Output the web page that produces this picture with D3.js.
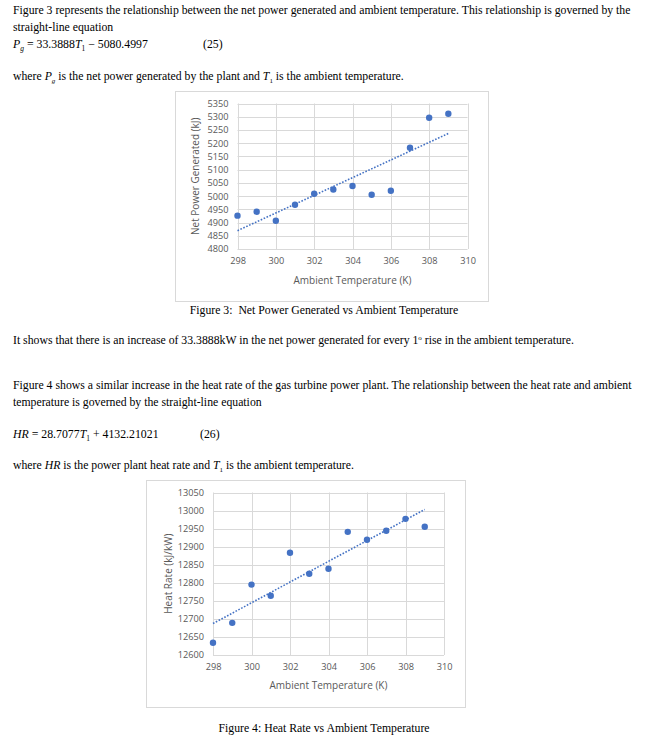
<!DOCTYPE html>
<html>
<head>
<meta charset="utf-8">
<script src="https://cdn.jsdelivr.net/npm/d3@7"></script>
<style>
  body { margin: 0; background: #fff; }
  .body-text { font-family: "Liberation Serif", "Times New Roman", serif; font-size: 11.75px; fill: #000; }
  .eq { font-family: "Liberation Serif", serif; font-size: 11.8px; fill: #000; }
  .tick-label { font-family: "Open Sans", sans-serif; font-size: 9.2px; fill: #595959; }
  .axis-title { font-family: "Open Sans", sans-serif; font-size: 10px; fill: #595959; }
</style>
</head>
<body>
<div id="page"></div>
<script>
// data
const temps = [298, 299, 300, 301, 302, 303, 304, 305, 306, 307, 308, 309];
const netPower = [4926, 4941, 4907, 4967, 5009, 5025, 5038, 5005, 5020, 5183, 5296, 5311];
const heatRate = [12634, 12689, 12795, 12764, 12883, 12825, 12839, 12941, 12919, 12944, 12977, 12955];
const tempTicks = [298, 300, 302, 304, 306, 308, 310];
const powerTicks = [4800, 4850, 4900, 4950, 5000, 5050, 5100, 5150, 5200, 5250, 5300, 5350];
const heatTicks = [12600, 12650, 12700, 12750, 12800, 12850, 12900, 12950, 13000, 13050];
// trendline coefficients (slope, intercept) as given in eq. 25 / 26
const powerFit = [33.3888, -5080.4997];
const heatFit = [28.7077, 4132.21021];

const W = 648, H = 751;
const blue = "#4472c4";

const svg = d3.select("#page").append("svg")
    .attr("width", W).attr("height", H);
svg.append("rect").attr("width", W).attr("height", H).attr("fill", "#fff");

// plain paragraph lines
function textLine(x, y, str, anchor) {
    svg.append("text").attr("class", "body-text")
        .attr("x", x).attr("y", y)
        .attr("text-anchor", anchor || "start")
        .text(str);
}

textLine(13, 14, "Figure 3 represents the relationship between the net power generated and ambient temperature. This relationship is governed by the");
textLine(13, 31, "straight-line equation");

// equation 25
let eq = svg.append("text").attr("class", "eq").attr("x", 13).attr("y", 48);
eq.append("tspan").attr("font-style", "italic").text("P");
eq.append("tspan").attr("font-style", "italic").attr("font-size", "7.5px").attr("dy", 2.5).text("g");
eq.append("tspan").attr("dy", -2.5).text(" = 33.3888");
eq.append("tspan").attr("font-style", "italic").text("T");
eq.append("tspan").attr("font-size", "7.5px").attr("dy", 2.5).text("1");
eq.append("tspan").attr("dy", -2.5).text(" \u2212 5080.4997");
textLine(203, 48, "(25)");

let w1 = svg.append("text").attr("class", "body-text").attr("x", 13).attr("y", 80);
w1.append("tspan").text("where ");
w1.append("tspan").attr("font-style", "italic").text("P");
w1.append("tspan").attr("font-style", "italic").attr("font-size", "7px").attr("dy", 3).text("g");
w1.append("tspan").attr("dy", -3).text(" is the net power generated by the plant and ");
w1.append("tspan").attr("font-style", "italic").text("T");
w1.append("tspan").attr("font-size", "7px").attr("dy", 3).text("1");
w1.append("tspan").attr("dy", -3).text(" is the ambient temperature.");

textLine(324, 314, "Figure 3:\u00a0 Net Power Generated vs Ambient Temperature", "middle");
let s1 = svg.append("text").attr("class", "body-text").attr("x", 13).attr("y", 344);
s1.append("tspan").text("It shows that there is an increase of 33.3888kW in the net power generated for every 1");
s1.append("tspan").attr("font-size", "7px").attr("dy", -4).text("o");
s1.append("tspan").attr("dy", 4).text(" rise in the ambient temperature.");

textLine(13, 389, "Figure 4 shows a similar increase in the heat rate of the gas turbine power plant. The relationship between the heat rate and ambient");
textLine(13, 406, "temperature is governed by the straight-line equation");

let eq2 = svg.append("text").attr("class", "eq").attr("x", 13).attr("y", 438);
eq2.append("tspan").attr("font-style", "italic").text("HR");
eq2.append("tspan").text(" = 28.7077");
eq2.append("tspan").attr("font-style", "italic").text("T");
eq2.append("tspan").attr("font-size", "7.5px").attr("dy", 2.5).text("1");
eq2.append("tspan").attr("dy", -2.5).text(" + 4132.21021");
textLine(200, 438, "(26)");

let w2 = svg.append("text").attr("class", "body-text").attr("x", 13).attr("y", 469);
w2.append("tspan").text("where ");
w2.append("tspan").attr("font-style", "italic").text("HR");
w2.append("tspan").text(" is the power plant heat rate and ");
w2.append("tspan").attr("font-style", "italic").text("T");
w2.append("tspan").attr("font-size", "7px").attr("dy", 3).text("1");
w2.append("tspan").attr("dy", -3).text(" is the ambient temperature.");

textLine(324, 732, "Figure 4: Heat Rate vs Ambient Temperature", "middle");

// one excel-style scatter chart with dotted linear trendline
function drawChart(o) {
    const g = svg.append("g");
    g.append("rect")
        .attr("x", o.frame[0] + 0.5).attr("y", o.frame[1] + 0.5)
        .attr("width", o.frame[2] - o.frame[0]).attr("height", o.frame[3] - o.frame[1])
        .attr("fill", "#fff").attr("stroke", "#d9d9d9").attr("stroke-width", 1);

    const x = d3.scaleLinear().domain([o.xTicks[0], o.xTicks[o.xTicks.length - 1]]).range([o.plot[0], o.plot[2]]);
    const y = d3.scaleLinear().domain([o.yTicks[0], o.yTicks[o.yTicks.length - 1]]).range([o.plot[3], o.plot[1]]);

    // gridlines
    g.append("g").selectAll("line").data(o.yTicks).enter().append("line")
        .attr("x1", o.plot[0]).attr("x2", o.plot[2])
        .attr("y1", d => Math.round(y(d)) + 0.5).attr("y2", d => Math.round(y(d)) + 0.5)
        .attr("stroke", "#d9d9d9").attr("stroke-width", 1);
    g.append("g").selectAll("line").data(o.xTicks).enter().append("line")
        .attr("x1", d => Math.round(x(d)) + 0.5).attr("x2", d => Math.round(x(d)) + 0.5)
        .attr("y1", o.plot[1]).attr("y2", o.plot[3])
        .attr("stroke", "#d9d9d9").attr("stroke-width", 1);

    // tick labels
    const ya = g.append("g").attr("transform", `translate(${o.plot[0] - 9},0)`)
        .call(d3.axisLeft(y).tickValues(o.yTicks).tickFormat(d3.format("d")).tickSize(0).tickPadding(0));
    ya.select(".domain").remove();
    ya.selectAll("text").attr("class", "tick-label").attr("font-family", null).attr("font-size", null).attr("fill", null);

    const xa = g.append("g").attr("transform", `translate(0,${o.plot[3] + 8})`)
        .call(d3.axisBottom(x).tickValues(o.xTicks).tickFormat(d3.format("d")).tickSize(0).tickPadding(0));
    xa.select(".domain").remove();
    xa.selectAll("text").attr("class", "tick-label").attr("font-family", null).attr("font-size", null).attr("fill", null);

    // axis titles
    g.append("text").attr("class", "axis-title")
        .attr("x", (o.plot[0] + o.plot[2]) / 2).attr("y", o.xTitleY)
        .attr("text-anchor", "middle").text(o.xTitle);
    g.append("text").attr("class", "axis-title")
        .attr("transform", `translate(${o.yTitleX},${(o.plot[1] + o.plot[3]) / 2}) rotate(-90)`)
        .attr("text-anchor", "middle").text(o.yTitle);

    // trendline
    const ends = [temps[0], temps[temps.length - 1]];
    g.append("path")
        .attr("d", d3.line().x(d => x(d)).y(d => y(o.fit[0] * d + o.fit[1]))(ends))
        .attr("fill", "none").attr("stroke", blue).attr("stroke-width", 1.6)
        .attr("stroke-dasharray", "1.6,1.6");

    // markers
    g.append("g").selectAll("circle").data(o.values).enter().append("circle")
        .attr("cx", (d, i) => x(temps[i])).attr("cy", d => y(d))
        .attr("r", 3.2).attr("fill", blue);
}

drawChart({
    frame: [175, 91, 488, 301],
    plot: [237.5, 103.5, 467.5, 249],
    xTicks: tempTicks, yTicks: powerTicks,
    values: netPower, fit: powerFit,
    xTitle: "Ambient Temperature (K)", yTitle: "Net Power Generated (kJ)",
    xTitleY: 284, yTitleX: 199
});

drawChart({
    frame: [146, 480, 465, 707],
    plot: [213, 492.5, 444, 655],
    xTicks: tempTicks, yTicks: heatTicks,
    values: heatRate, fit: heatFit,
    xTitle: "Ambient Temperature (K)", yTitle: "Heat Rate (kJ/kW)",
    xTitleY: 689, yTitleX: 172
});
</script>
</body>
</html>
